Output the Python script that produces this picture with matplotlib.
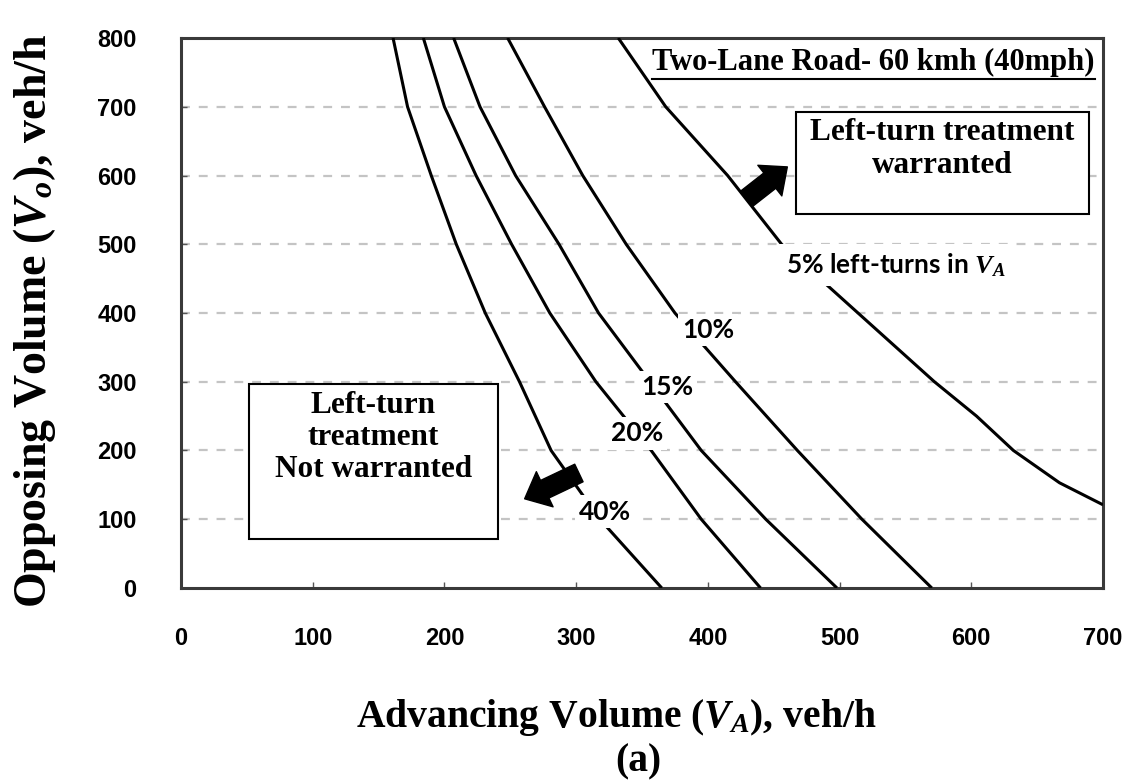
import matplotlib
matplotlib.use("Agg")
import matplotlib.pyplot as plt
from matplotlib.patches import Rectangle
from matplotlib.lines import Line2D

plt.rcParams['mathtext.fontset'] = 'custom'
plt.rcParams['mathtext.it'] = 'Liberation Serif:italic:bold'
plt.rcParams['mathtext.rm'] = 'Liberation Serif:bold'

# --- dati (Vo -> VA per ciascuna curva) ---
vo_levels = [800, 700, 600, 500, 400, 300, 200, 100, 0]
va_40 = [161, 172, 190, 209, 231, 257, 281, 318, 365]
va_20 = [184, 200, 224, 251, 280, 315, 357, 395, 440]
va_15 = [207, 227, 254, 287, 317, 356, 395, 444, 498]
va_10 = [248, 276, 305, 338, 375, 421, 468, 517, 570]
vo_5 = [800, 700, 600, 500, 400, 300, 250, 200, 153, 121]
va_5 = [332, 368, 415, 456, 514, 572, 604, 632, 667, 700]

x_ticks = [0, 100, 200, 300, 400, 500, 600, 700]
y_ticks = [0, 100, 200, 300, 400, 500, 600, 700, 800]

fig = plt.figure(figsize=(11.27, 7.82), dpi=100)
ax = fig.add_axes([0.1606, 0.2481, 0.8181, 0.7033])

for va, vo in [(va_40, vo_levels), (va_20, vo_levels), (va_15, vo_levels),
               (va_10, vo_levels), (va_5, vo_5)]:
    ax.plot(va, vo, color='black', lw=2.2, zorder=3, solid_capstyle='butt',
            solid_joinstyle='round')

ax.set_xlim(0, 700)
ax.set_ylim(0, 800)
ax.set_xticks(x_ticks)
ax.set_yticks(y_ticks)
ax.tick_params(direction='in', length=4, width=1, color='#555555')
ax.tick_params(axis='x', pad=28)
ax.tick_params(axis='y', pad=32)
for lab in ax.get_xticklabels() + ax.get_yticklabels():
    lab.set_fontfamily('Liberation Sans')
    lab.set_fontweight('bold')
    lab.set_fontsize(17)

for y in y_ticks[1:-1]:
    ax.axhline(y, color='#c4c4c4', lw=1.6, ls=(0, (4, 4)), zorder=1)
for s in ax.spines.values():
    s.set_linewidth(2.2)
    s.set_color('#3a3a3a')

# etichette percentuali (sfondo bianco per interrompere la curva)
bb = dict(facecolor='white', edgecolor='none', pad=3)
pfont = dict(family='Lato', weight='bold', fontsize=19, zorder=5)
ax.text(400, 375, '10%', ha='center', va='center', bbox=bb, **pfont)
ax.text(369, 292, '15%', ha='center', va='center', bbox=bb, **pfont)
ax.text(346, 225, '20%', ha='center', va='center', bbox=bb, **pfont)
ax.text(322, 111, '40%', ha='center', va='center', bbox=bb, **pfont)
ax.text(459, 470, '5% left-turns in $V_A$', ha='left', va='center',
        bbox=dict(facecolor='white', edgecolor='none', pad=5), **pfont)

# riquadri
sfont = dict(family='Liberation Serif', weight='bold', fontsize=22.5, zorder=6)
ax.add_patch(Rectangle((467, 544), 222, 148, facecolor='white', edgecolor='black',
                       lw=1.5, zorder=4))
ax.text(578, 683, 'Left-turn treatment\nwarranted', ha='center', va='top',
        linespacing=1.15, **sfont)
ax.add_patch(Rectangle((52, 71), 189, 226, facecolor='white', edgecolor='black',
                       lw=1.5, zorder=4))
ax.text(146, 287, 'Left-turn\ntreatment\nNot warranted', ha='center', va='top',
        linespacing=1.15, **sfont)

# frecce
arrow = dict(arrowstyle='simple,head_width=2.8,head_length=1.6,tail_width=1.4',
             color='black', mutation_scale=10)
ax.annotate('', xy=(462, 615), xytext=(428, 564), arrowprops=arrow, zorder=6)
ax.annotate('', xy=(259, 128), xytext=(304, 169), arrowprops=arrow, zorder=6)

# titolo sottolineato
t = ax.text(0.991, 0.955, 'Two-Lane Road- 60 kmh (40mph)', transform=ax.transAxes,
            ha='right', va='center', bbox=dict(facecolor='white', edgecolor='none', pad=1),
            family='Liberation Serif', weight='bold', fontsize=22, zorder=6)
fig.canvas.draw()
tb = t.get_window_extent().transformed(ax.transAxes.inverted())
ax.add_line(Line2D([tb.x0, tb.x1], [tb.y0 - 0.004, tb.y0 - 0.004], transform=ax.transAxes,
                   color='black', lw=1.5, zorder=7))

# titoli assi
fig.text(0.547, 0.082, 'Advancing Volume ($V_A$), veh/h', ha='center', va='center',
         family='Liberation Serif', weight='bold', fontsize=28.5)
fig.text(0.566, 0.026, '(a)', ha='center', va='center',
         family='Liberation Serif', weight='bold', fontsize=28.5)
fig.text(0.031, 0.589, 'Opposing Volume ($V_o$), veh/h', ha='center', va='center',
         rotation=90, family='Liberation Serif', weight='bold', fontsize=33)

fig.savefig('out.png', dpi=100)
